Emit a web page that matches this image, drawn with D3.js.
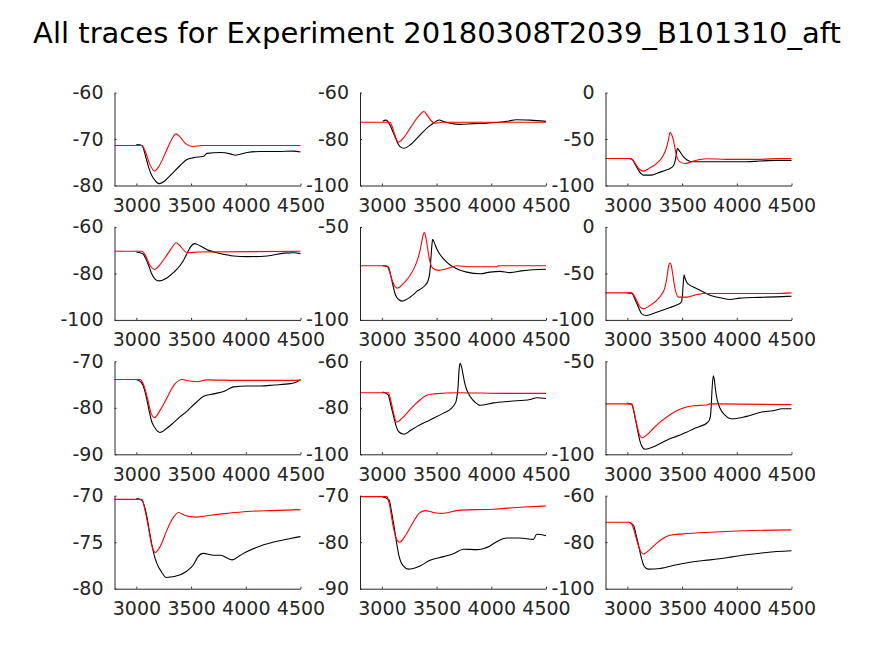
<!DOCTYPE html>
<html>
<head>
<meta charset="utf-8">
<script src="https://cdn.jsdelivr.net/npm/d3@7"></script>
<style>
  body { margin: 0; background: #fff; }
  svg text { font-family: "DejaVu Sans", sans-serif; fill: #262626; }
</style>
</head>
<body>
<div id="fig"></div>
<script>
// global vars
var figW = 874, figH = 656;
var titleText = 'All traces for Experiment 20180308T2039_B101310_aft';

var xDomain = [2800, 4500];
var xTicks = [3000, 3500, 4000, 4500];

// y range + ticks for each panel (row by row)
var yDomains = [[-80, -60], [-100, -60], [-100, 0],
                [-100, -60], [-100, -50], [-100, 0],
                [-90, -70], [-100, -60], [-100, -50],
                [-80, -70], [-90, -70], [-100, -60]];
var yTicks = [[-80, -70, -60], [-100, -80, -60], [-100, -50, 0],
              [-100, -80, -60], [-100, -50], [-100, -50, 0],
              [-90, -80, -70], [-100, -80, -60], [-100, -50],
              [-80, -75, -70], [-90, -80, -70], [-100, -80, -60]];

// traces: [time, value]
var black1 = [[3000,-71.2],[3040,-71.3],[3059,-71.7],[3085,-73.8],[3111,-76],[3135,-77.6],[3157,-78.5],[3185,-79.3],[3209,-79.6],[3249,-79.2],[3290,-78.3],[3340,-77.1],[3400,-75.7],[3462,-74.4],[3523,-74.0],[3615,-73.7],[3645,-73.1],[3767,-72.9],[3859,-73.2],[3905,-73.5],[4012,-72.9],[4134,-72.7],[4286,-72.7],[4439,-72.6],[4500,-72.8]];
var red1 = [[2800,-71.4],[3050,-71.4],[3080,-72.6],[3120,-75.3],[3166,-76.9],[3200,-76.1],[3260,-73.3],[3320,-70.2],[3361,-68.9],[3400,-69.6],[3450,-71],[3508,-71.6],[3600,-71.4],[4500,-71.4]];

var black2 = [[3007,-72.4],[3038,-71.9],[3074,-74],[3100,-76.8],[3120,-79],[3145,-81.8],[3166,-83.3],[3202,-84],[3257,-82.6],[3320,-79.7],[3379,-76.8],[3430,-74.6],[3470,-73.2],[3525,-71.8],[3562,-72.5],[3623,-73.2],[3714,-73.7],[3836,-73.4],[3958,-73.2],[4049,-72.9],[4141,-72.4],[4231,-71.7],[4354,-71.9],[4500,-72.4]];
var red2 = [[2800,-72.8],[3074,-72.8],[3095,-74.8],[3120,-78.5],[3150,-81.4],[3200,-79.4],[3260,-75.2],[3330,-70.5],[3385,-68.2],[3420,-70.2],[3460,-72.6],[3486,-73.2],[3550,-72.8],[4500,-72.8]];

var black3 = [[3000,-70.9],[3040,-71.6],[3070,-77],[3101,-83.5],[3125,-87.2],[3147,-88.8],[3223,-88.8],[3299,-85.6],[3350,-83.6],[3390,-81.7],[3415,-79.6],[3430,-76.5],[3444,-69],[3457,-60],[3468,-61.5],[3481,-63.7],[3500,-67.2],[3527,-70.9],[3560,-73.5],[3588,-74.5],[3755,-74.5],[3968,-74.5],[4089,-74.5],[4211,-73.7],[4363,-73],[4500,-73]];
var red3 = [[2800,-70.9],[3025,-70.9],[3050,-72.8],[3080,-78],[3110,-82.5],[3147,-84.5],[3200,-81.6],[3268,-76.3],[3310,-71],[3344,-63.7],[3362,-57.5],[3375,-51],[3390,-42.8],[3405,-45.5],[3420,-51],[3435,-60],[3451,-69],[3480,-74.6],[3527,-76.3],[3603,-73.7],[3724,-71.2],[3907,-71.9],[4211,-71.9],[4393,-70.9],[4500,-70.9]];

var black4 = [[3000,-70.8],[3059,-71.5],[3085,-73.6],[3111,-76.5],[3135,-79.6],[3157,-81.6],[3180,-82.8],[3209,-83.2],[3279,-82],[3340,-79.6],[3401,-76.5],[3435,-74],[3462,-71.5],[3495,-68.6],[3532,-67.2],[3584,-68.2],[3660,-70.1],[3737,-71.1],[3889,-72.5],[4012,-72.8],[4195,-72.5],[4347,-71.3],[4439,-71.1],[4500,-71.5]];
var red4 = [[2800,-70.5],[3050,-70.5],[3080,-72],[3120,-76.2],[3166,-78.3],[3210,-76.6],[3260,-73.4],[3320,-69.2],[3364,-66.8],[3400,-68.2],[3440,-70.4],[3477,-71.1],[3560,-70.8],[4500,-70.5]];

var black5 = [[3007,-70.9],[3059,-71.6],[3080,-75.8],[3105,-82.4],[3120,-85.8],[3135,-87.8],[3160,-89.3],[3187,-89.9],[3220,-89.2],[3257,-87.8],[3290,-86.3],[3318,-84.7],[3360,-83.2],[3394,-81.5],[3420,-79.2],[3434,-76.1],[3442,-72],[3449,-66.2],[3457,-60],[3464,-56.7],[3480,-58.6],[3501,-61.7],[3530,-64.7],[3562,-67.1],[3605,-69.6],[3653,-71.6],[3710,-73.2],[3775,-74.3],[3897,-75.2],[3988,-74.3],[4080,-73.9],[4171,-74.6],[4293,-73.5],[4500,-72.8]];
var red5 = [[2800,-70.9],[3044,-70.9],[3065,-73.2],[3090,-78],[3115,-81.6],[3141,-82.9],[3200,-80.2],[3257,-76.1],[3300,-71.5],[3333,-66.2],[3352,-61.8],[3364,-58.1],[3378,-54.2],[3388,-53.1],[3398,-54.5],[3409,-58.1],[3424,-63.7],[3440,-68.9],[3470,-72.4],[3516,-73.4],[3592,-72.5],[3684,-70.9],[3790,-71.4],[4049,-71.4],[4065,-70.9],[4500,-70.9]];

var black6 = [[3000,-70.9],[3040,-71.2],[3070,-78],[3101,-86.3],[3131,-93.5],[3171,-95.3],[3268,-91.7],[3390,-86.7],[3450,-84],[3487,-81.7],[3497,-79.5],[3502,-75.5],[3510,-62],[3518,-51.4],[3528,-55.5],[3542,-59.4],[3570,-62.6],[3603,-64.7],[3650,-67.3],[3694,-70.1],[3740,-72.6],[3785,-74.5],[3860,-76.5],[3937,-78],[4029,-76.6],[4211,-75.8],[4363,-75.2],[4500,-74.5]];
var red6 = [[2800,-70.9],[3040,-70.9],[3065,-74.5],[3090,-80.5],[3115,-86],[3147,-88.1],[3200,-85],[3268,-79.1],[3310,-73],[3344,-64.7],[3356,-58],[3366,-50.4],[3378,-41.5],[3390,-38.8],[3402,-42],[3414,-50.4],[3425,-59],[3436,-66.5],[3450,-72.5],[3466,-75.5],[3542,-75.5],[3633,-72.7],[3694,-71.6],[4363,-71.6],[4500,-70.9]];

var black7 = [[3000,-73.9],[3047,-74.6],[3070,-75.8],[3093,-77.9],[3115,-80.5],[3139,-82.9],[3169,-84.3],[3215,-85.3],[3279,-84.4],[3340,-83.2],[3401,-81.9],[3450,-81],[3493,-80],[3554,-78.7],[3615,-77.5],[3706,-77],[3798,-76.5],[3889,-75.5],[4012,-75.3],[4134,-75.3],[4256,-75.1],[4408,-74.8],[4470,-74.4],[4500,-73.9]];
var red7 = [[2800,-73.9],[3035,-73.9],[3065,-75],[3100,-77.8],[3135,-81.2],[3166,-82.1],[3220,-80.4],[3279,-77.9],[3320,-76],[3355,-74.8],[3390,-74.1],[3416,-73.9],[3480,-74.2],[3554,-74.4],[3645,-74],[3920,-74.1],[4500,-74.1]];

var black8 = [[3004,-73.2],[3056,-74.3],[3085,-79.5],[3111,-84.4],[3130,-87.8],[3154,-90.3],[3202,-91.4],[3260,-89.8],[3318,-88.1],[3440,-85.2],[3562,-82.3],[3638,-80.1],[3665,-78.5],[3678,-77.2],[3690,-74],[3696,-71.3],[3705,-64],[3714,-60.9],[3729,-62.6],[3745,-66.5],[3760,-69.9],[3780,-72.8],[3805,-75],[3850,-77.5],[3897,-78.9],[4019,-77.9],[4171,-77.2],[4354,-76.4],[4415,-75.7],[4500,-76]];
var red8 = [[2800,-73.5],[3059,-73.5],[3080,-76.5],[3105,-82],[3135,-86.2],[3190,-84.2],[3257,-80.8],[3320,-77.8],[3394,-75],[3440,-74.2],[3476,-74],[3700,-73.5],[4110,-73.8],[4500,-73.8]];

var black9 = [[2995,-72.4],[3040,-73.3],[3071,-80.5],[3095,-87.5],[3117,-93.3],[3140,-96.4],[3162,-97.3],[3238,-96],[3300,-94.2],[3360,-92.4],[3420,-91],[3481,-89.6],[3540,-88.2],[3603,-86.4],[3660,-85],[3724,-83.3],[3750,-81.5],[3761,-78.7],[3768,-72],[3773,-66],[3785,-57.8],[3795,-60],[3803,-64.2],[3820,-70.5],[3846,-75.1],[3890,-78.8],[3930,-80.6],[3968,-80.9],[4089,-79.6],[4211,-77.5],[4363,-76.2],[4408,-75.5],[4500,-75.5]];
var red9 = [[2800,-72.9],[3040,-72.9],[3060,-76.8],[3085,-84],[3110,-89.5],[3131,-91.1],[3180,-89.4],[3238,-86],[3310,-82.2],[3390,-78.7],[3450,-76.6],[3512,-75.1],[3603,-73.9],[3724,-73.5],[3755,-72.9],[4500,-73.3]];

var black10 = [[3000,-70.3],[3050,-70.5],[3075,-71.2],[3096,-72.25],[3120,-73.9],[3142,-75.3],[3165,-76.5],[3188,-77.3],[3230,-78.2],[3273,-78.8],[3401,-78.5],[3462,-78.1],[3523,-77.4],[3560,-76.6],[3609,-76.2],[3706,-76.4],[3767,-76.4],[3874,-76.9],[3950,-76.4],[4012,-76],[4134,-75.4],[4286,-74.9],[4408,-74.6],[4500,-74.4]];
var red10 = [[2800,-70.4],[3050,-70.4],[3080,-71.6],[3110,-73.4],[3140,-75.3],[3172,-76.1],[3220,-75.4],[3279,-73.7],[3310,-72.9],[3340,-72.3],[3386,-71.8],[3440,-72.1],[3493,-72.25],[3554,-72.3],[3676,-72.1],[3828,-71.9],[4012,-71.7],[4225,-71.6],[4500,-71.5]];

var black11 = [[3004,-70.2],[3065,-70.9],[3088,-73.4],[3111,-76.6],[3132,-79.8],[3154,-82.7],[3175,-84.3],[3196,-85.1],[3242,-85.8],[3348,-85.1],[3440,-83.9],[3562,-83.1],[3653,-82.5],[3745,-81.5],[3867,-81.6],[3988,-80.8],[4049,-79.9],[4141,-79.1],[4263,-79.1],[4385,-79.4],[4415,-78.3],[4500,-78.6]];
var red11 = [[2800,-70.2],[3044,-70.2],[3070,-72],[3100,-76.2],[3130,-79.1],[3160,-80],[3220,-78.4],[3288,-75.6],[3340,-73.8],[3394,-73.2],[3470,-73.6],[3547,-73.8],[3714,-73.1],[4019,-72.9],[4263,-72.5],[4500,-72.2]];

var black12 = [[3010,-71.4],[3055,-72.6],[3078,-76.5],[3101,-81.1],[3125,-86.2],[3147,-89.7],[3170,-91.2],[3192,-91.6],[3299,-91.3],[3451,-89.7],[3603,-88.4],[3755,-87.6],[3907,-86.7],[4089,-85.4],[4272,-84.4],[4500,-83.7]];
var red12 = [[2800,-71.4],[3025,-71.4],[3055,-74],[3090,-79.8],[3120,-83.8],[3147,-85.1],[3200,-83.4],[3268,-80.4],[3330,-78.2],[3390,-77],[3512,-76.4],[3755,-75.7],[4059,-75.1],[4500,-74.7]];

var blackTraces = [black1, black2, black3, black4, black5, black6, black7, black8, black9, black10, black11, black12];
var redTraces = [red1, red2, red3, red4, red5, red6, red7, red8, red9, red10, red11, red12];

// subplot geometry
var axLeft0 = 114.5, axColStep = 245.5, axW = 186;
var axTop0 = 92.5, axRowStep = 134.4, axH = 93;

var svg = d3.select('#fig').append('svg')
    .attr('width', figW)
    .attr('height', figH);

svg.append('text')
    .attr('x', figW / 2)
    .attr('y', 43)
    .attr('text-anchor', 'middle')
    .style('font-size', '29px')
    .style('fill', '#000')
    .text(titleText);

function drawPanel(i){
    var row = Math.floor(i / 3), col = i % 3;
    var g = svg.append('g')
        .attr('transform', 'translate(' + (axLeft0 + col * axColStep) + ',' + (axTop0 + row * axRowStep) + ')');

    var xScale = d3.scaleLinear().domain(xDomain).range([0, axW]);
    var yScale = d3.scaleLinear().domain(yDomains[i]).range([axH, 0]);

    var line = d3.line()
        .curve(d3.curveMonotoneX)
        .x(function(d){ return xScale(d[0]); })
        .y(function(d){ return yScale(d[1]); });

    g.append('path')
        .datum(blackTraces[i])
        .attr('fill', 'none')
        .attr('stroke', '#000')
        .attr('stroke-width', 1.1)
        .attr('d', line);
    g.append('path')
        .datum(redTraces[i])
        .attr('fill', 'none')
        .attr('stroke', '#ff0000')
        .attr('stroke-width', 1.1)
        .attr('d', line);

    var fmt = function(d){ return String(d); };
    var xAx = g.append('g')
        .attr('transform', 'translate(0,' + axH + ')')
        .call(d3.axisBottom(xScale).tickValues(xTicks).tickFormat(fmt)
            .tickSizeInner(-2).tickSizeOuter(0).tickPadding(13));
    var yAx = g.append('g')
        .call(d3.axisLeft(yScale).tickValues(yTicks[i]).tickFormat(fmt)
            .tickSizeInner(-2).tickSizeOuter(0).tickPadding(11));

    [xAx, yAx].forEach(function(a){
        a.selectAll('path, line').attr('stroke', '#262626');
        a.selectAll('text')
            .attr('fill', '#262626')
            .style('font-size', '19px')
            .style('font-family', '"DejaVu Sans", sans-serif');
    });
}

for (var i = 0; i < 12; i++){
    drawPanel(i);
}
</script>
</body>
</html>
